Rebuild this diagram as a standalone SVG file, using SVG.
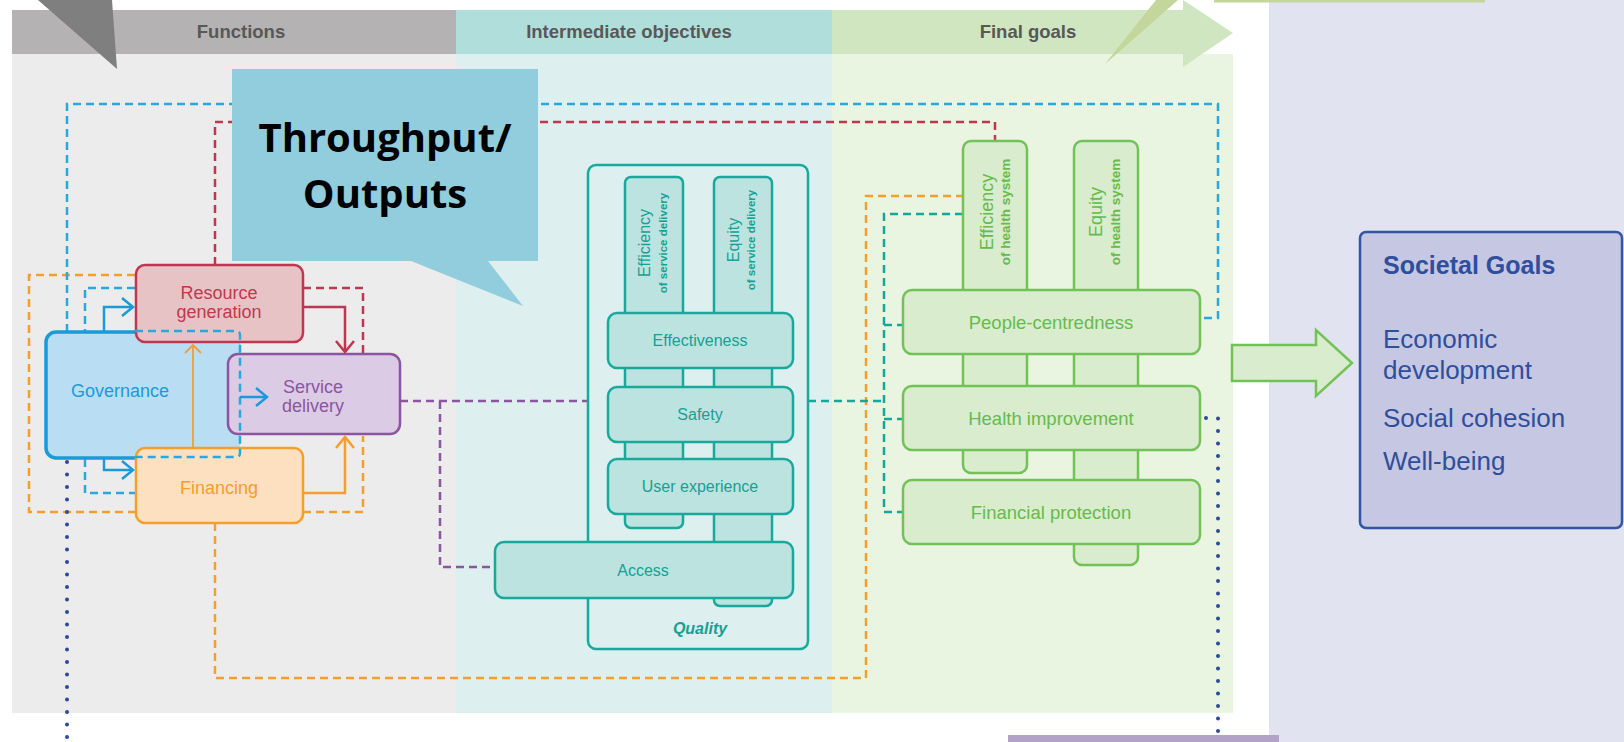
<svg xmlns="http://www.w3.org/2000/svg" width="1624" height="742" viewBox="0 0 1624 742">
<style>
text{font-family:"Liberation Sans",Arial,sans-serif}
.hdr{font-size:18.5px;font-weight:bold;fill:#585858;text-anchor:middle}
.d{fill:none;stroke-width:2.5;stroke-dasharray:8 5}
.dot{fill:none;stroke:#2b4a98;stroke-width:4;stroke-dasharray:0 12.5;stroke-linecap:round}
.fn{font-size:18px;text-anchor:middle}
.tl{fill:#bce3e0;stroke:#17aa9c;stroke-width:2.5}
.tt{font-size:16px;fill:#15a194;text-anchor:middle}
.tts{font-size:11.5px;font-weight:bold;fill:#15a194;text-anchor:middle}
.gb{fill:#d9ecce;stroke:#72c257;stroke-width:2.5}
.gt{font-size:18.5px;fill:#66bb4a;text-anchor:middle}
.gtv{font-size:18px;fill:#66bb4a;text-anchor:middle}
.gts{font-size:13.5px;font-weight:bold;fill:#66bb4a;text-anchor:middle}
.sg{font-size:26px;fill:#2f4e9c}
.sgh{font-size:25px;font-weight:bold;fill:#2f4e9c}
.co{font-family:"Open Sans","Liberation Sans",sans-serif;font-size:40px;font-weight:bold;fill:#000;text-anchor:middle}
</style>
<defs>
<marker id="chB" markerUnits="userSpaceOnUse" markerWidth="30" markerHeight="30" orient="auto" refX="0" refY="0" style="overflow:visible"><path d="M-11,-9 L0,0 L-11,9" fill="none" stroke="#1a9ad8" stroke-width="2.5"/></marker>
<marker id="chR" markerUnits="userSpaceOnUse" markerWidth="30" markerHeight="30" orient="auto" refX="0" refY="0" style="overflow:visible"><path d="M-11,-9 L0,0 L-11,9" fill="none" stroke="#bf3650" stroke-width="2.5"/></marker>
<marker id="chO" markerUnits="userSpaceOnUse" markerWidth="30" markerHeight="30" orient="auto" refX="0" refY="0" style="overflow:visible"><path d="M-11,-9 L0,0 L-11,9" fill="none" stroke="#f59e2c" stroke-width="2.5"/></marker>
<marker id="chOs" markerUnits="userSpaceOnUse" markerWidth="30" markerHeight="30" orient="auto" refX="0" refY="0" style="overflow:visible"><path d="M-8,-8 L0,0 L-8,8" fill="none" stroke="#f59e2c" stroke-width="1.8"/></marker>
</defs>

<g id="background">
<rect x="12" y="54" width="444" height="659" fill="#ececec"/>
<rect x="456" y="54" width="376" height="659" fill="#ddefee"/>
<rect x="832" y="54" width="401" height="659" fill="#e9f4e1"/>
<rect x="1269" y="0" width="355" height="742" fill="#e1e3f0"/>
<rect x="12" y="10" width="444" height="44" fill="#b4b2b2"/>
<rect x="456" y="10" width="376" height="44" fill="#b0dedb"/>
<path d="M832,10 H1183 V0 L1233,33 L1183,67 V54 H832 Z" fill="#cfe6c1"/>
<text class="hdr" x="241" y="38">Functions</text>
<text class="hdr" x="629" y="38">Intermediate objectives</text>
<text class="hdr" x="1028" y="38">Final goals</text>
<path d="M38,0 H112 L117,69 Z" fill="#7f7f7f"/>
<path d="M1156,0 H1178 L1105,64 Z" fill="#c3d69b"/>
<rect x="1214" y="0" width="271" height="2.5" fill="#c3d69b"/>
<rect x="1008" y="735" width="271" height="7" fill="#b3a2c7"/>
</g>

<g id="connectors">
<path class="d" stroke="#f59e2c" d="M135,275 H29 V512 H135 M303,512 H363 V436"/>
<path class="d" stroke="#29a8e0" d="M135,288 H85 V493 H135"/>
<path class="d" stroke="#bf3650" d="M303,288 H363 V354"/>
<path class="d" stroke="#29a8e0" d="M67,332 V104 H1218 V318 H1202"/>
<path class="d" stroke="#bf3650" d="M215,265 V122 H995 V141"/>
<path class="d" stroke="#f59e2c" d="M215,523 V678 H866 V196 H963"/>
<path class="d" stroke="#14a89a" d="M808,401 H884 M963,214 H884 V512 H903 M884,325 H903 M884,419 H903"/>
<path class="d" stroke="#8b55a0" d="M400,401 H588 M440,401 V567 H495"/>
<path class="dot" d="M67,462 V742"/>
<path class="dot" d="M1206,418 H1218 V742"/>
</g>

<g id="governance">
<rect x="46" y="332" width="194" height="126" rx="10" fill="#b9def3"/>
<path d="M135,332 H56 A10,10 0 0 0 46,342 V448 A10,10 0 0 0 56,458 H135" fill="none" stroke="#1a9ad8" stroke-width="3.5"/>
<text class="fn" x="120" y="397" fill="#1a9ad8">Governance</text>
</g>
<g id="resource-generation">
<rect x="136" y="265" width="167" height="77" rx="9" fill="#e8c3c6" stroke="#bf3650" stroke-width="2.5"/>
<text class="fn" x="219" y="299" fill="#c1384f">Resource</text>
<text class="fn" x="219" y="318" fill="#c1384f">generation</text>
</g>
<g id="financing">
<rect x="136" y="448" width="167" height="75" rx="9" fill="#fde0c0" stroke="#f59e2c" stroke-width="2.5"/>
<text class="fn" x="219" y="494" fill="#f59e2c">Financing</text>
</g>
<g id="service-delivery">
<rect x="228" y="354" width="172" height="80" rx="10" fill="#dccbe5" stroke="#8b55a0" stroke-width="2.5"/>
<text class="fn" x="313" y="393" fill="#8b55a0">Service</text>
<text class="fn" x="313" y="412" fill="#8b55a0">delivery</text>
</g>
<g id="function-arrows">
<path d="M135,331 H236 Q240,331 240,335 V453 Q240,457 236,457 H135" fill="none" stroke="#29a8e0" stroke-width="2.5" stroke-dasharray="8 5"/>
<path d="M104,332 V307 H133" fill="none" stroke="#1a9ad8" stroke-width="2.5" marker-end="url(#chB)"/>
<path d="M104,458 V470 H133" fill="none" stroke="#1a9ad8" stroke-width="2.5" marker-end="url(#chB)"/>
<path d="M240,397 H267" fill="none" stroke="#1a9ad8" stroke-width="2.5" marker-end="url(#chB)"/>
<path d="M193,448 V345" fill="none" stroke="#f59e2c" stroke-width="1.8" marker-end="url(#chOs)"/>
<path d="M303,493 H345 V437" fill="none" stroke="#f59e2c" stroke-width="2.5" marker-end="url(#chO)"/>
<path d="M303,307 H345 V352" fill="none" stroke="#bf3650" stroke-width="2.5" marker-end="url(#chR)"/>
</g>

<g id="quality">
<rect x="588" y="165" width="220" height="484" rx="8" fill="#ddefee" stroke="#17aa9c" stroke-width="2.5"/>
<text x="700" y="634" font-size="16" font-weight="bold" font-style="italic" fill="#15a194" text-anchor="middle">Quality</text>
</g>
<g id="efficiency-service-delivery">
<rect class="tl" x="625" y="177" width="58" height="351" rx="6"/>
<text class="tt" transform="translate(650,243) rotate(-90)">Efficiency</text>
<text class="tts" transform="translate(667,243) rotate(-90)">of service delivery</text>
</g>
<g id="equity-service-delivery">
<rect class="tl" x="714" y="177" width="58" height="429" rx="6"/>
<text class="tt" transform="translate(739,240) rotate(-90)">Equity</text>
<text class="tts" transform="translate(755,240) rotate(-90)">of service delivery</text>
</g>
<g id="effectiveness">
<rect class="tl" x="608" y="313" width="185" height="55" rx="9"/>
<text class="tt" x="700" y="346">Effectiveness</text>
</g>
<g id="safety">
<rect class="tl" x="608" y="387" width="185" height="55" rx="9"/>
<text class="tt" x="700" y="420">Safety</text>
</g>
<g id="user-experience">
<rect class="tl" x="608" y="459" width="185" height="55" rx="9"/>
<text class="tt" x="700" y="492">User experience</text>
</g>
<g id="access">
<rect class="tl" x="495" y="542" width="298" height="56" rx="9"/>
<text class="tt" x="643" y="576">Access</text>
</g>

<g id="efficiency-health-system">
<rect class="gb" x="963" y="141" width="64" height="332" rx="8"/>
<text class="gtv" transform="translate(993,212) rotate(-90)">Efficiency</text>
<text class="gts" transform="translate(1010,212) rotate(-90)">of health system</text>
</g>
<g id="equity-health-system">
<rect class="gb" x="1074" y="141" width="64" height="424" rx="8"/>
<text class="gtv" transform="translate(1102,212) rotate(-90)">Equity</text>
<text class="gts" transform="translate(1120,212) rotate(-90)">of health system</text>
</g>
<g id="people-centredness">
<rect class="gb" x="903" y="290" width="297" height="64" rx="9"/>
<text class="gt" x="1051" y="329">People-centredness</text>
</g>
<g id="health-improvement">
<rect class="gb" x="903" y="386" width="297" height="64" rx="9"/>
<text class="gt" x="1051" y="425">Health improvement</text>
</g>
<g id="financial-protection">
<rect class="gb" x="903" y="480" width="297" height="64" rx="9"/>
<text class="gt" x="1051" y="519">Financial protection</text>
</g>

<g id="big-arrow">
<path d="M1232,345 H1316 V330 L1352,363 L1316,396 V381 H1232 Z" fill="#d9ecce" stroke="#72c257" stroke-width="2.5"/>
</g>
<g id="societal-goals">
<rect x="1360" y="232" width="262" height="296" rx="6" fill="#c6c7e3" stroke="#3056a4" stroke-width="2.5"/>
<text class="sgh" x="1383" y="274">Societal Goals</text>
<text class="sg" x="1383" y="348">Economic</text>
<text class="sg" x="1383" y="379">development</text>
<text class="sg" x="1383" y="427">Social cohesion</text>
<text class="sg" x="1383" y="470">Well-being</text>
</g>

<g id="throughput-callout">
<path d="M232,69 H538 V261 H488 L523,306 L411,261 H232 Z" fill="#92cddd"/>
<text class="co" x="385" y="152">Throughput/</text>
<text class="co" x="385" y="208">Outputs</text>
</g>
</svg>
